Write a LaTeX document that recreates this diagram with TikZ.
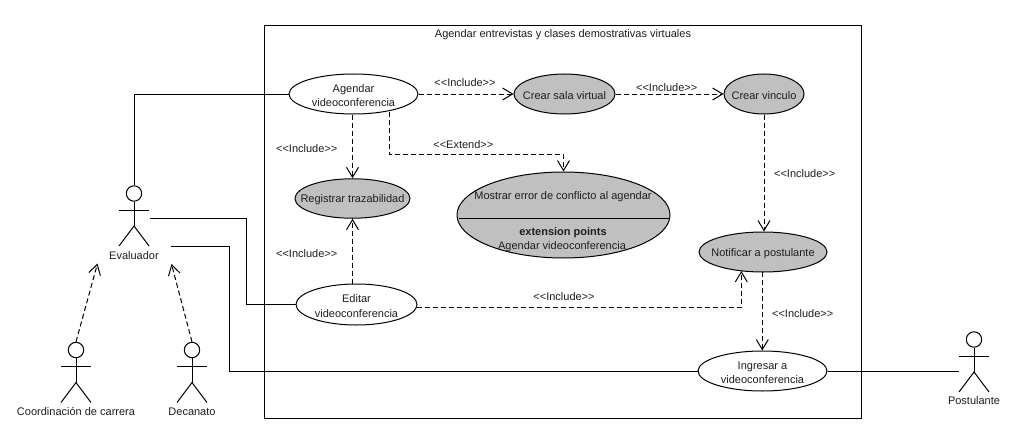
\documentclass[tikz,border=0pt]{standalone}
\usepackage{fontspec}
\setmainfont{Liberation Sans}
\usetikzlibrary{arrows.meta,shapes.geometric,calc}
\definecolor{ucgrey}{HTML}{C0C0C0}
\definecolor{uctext}{HTML}{1E1E1E}
\tikzset{
  every node/.style={font=\fontsize{11}{14.2}\selectfont,text=uctext},
  usecase/.style={draw=black,line width=1pt,ellipse,inner sep=0pt},
  plain/.style={usecase,fill=white},
  shaded/.style={usecase,fill=ucgrey},
  depline/.style={draw=black,line width=1pt,dash pattern=on 5pt off 3pt,-{Straight Barb[length=10pt,width=12pt,line width=1pt]}},
  assoc/.style={draw=black,line width=1pt},
  limb/.style={draw=black,line width=1pt},
  head/.style={draw=black,line width=1pt,circle,minimum size=15.4pt,inner sep=0pt},
  lbl/.style={inner sep=0pt,anchor=center,yshift=-1.5pt},
  uctxt/.style={label={[lbl,align=center]center:#1}},
}
% name, head x, head y, label, label y offset
\newcommand{\ucactor}[5]{%
  \node[head] (#1) at (#2,#3) {};
  \coordinate (#1-arml) at (#2-15,#3+16.5);
  \coordinate (#1-armr) at (#2+15,#3+16.5);
  \coordinate (#1-hip) at (#2,#3+32.5);
  \coordinate (#1-footl) at (#2-15,#3+52.5);
  \coordinate (#1-footr) at (#2+15,#3+52.5);
  \draw[limb] (#1.south) -- (#1-hip);
  \draw[limb] (#1-arml) -- (#1-armr);
  \draw[limb] (#1-footl) -- (#1-hip) -- (#1-footr);
  \node[lbl] (#1-label) at (#2,#3+#5) {#4};
}
\begin{document}
\begin{tikzpicture}[x=1pt,y=-1pt]
\useasboundingbox (0,0) rectangle (1012,436);
\fill[white] (0,0) rectangle (1012,436);

\node[draw=black,line width=1pt,minimum width=596.5pt,minimum height=392.5pt,inner sep=0pt] (system) at (562.75,221.75) {};
\node[lbl] (title) at (563,33) {Agendar entrevistas y clases demostrativas virtuales};

\node[plain,minimum width=129pt,minimum height=40pt,uctxt={Agendar\\videoconferencia}] (agendar) at (353.5,94) {};
\node[shaded,minimum width=101pt,minimum height=40pt,uctxt={Crear sala virtual}] (sala) at (564.5,94) {};
\node[shaded,minimum width=80pt,minimum height=40pt,uctxt={Crear vinculo}] (vinculo) at (764,94) {};
\node[shaded,minimum width=115pt,minimum height=39.5pt,uctxt={Registrar trazabilidad}] (registrar) at (352.5,198.5) {};
\node[shaded,minimum width=213pt,minimum height=86pt] (mostrar) at (563.5,215) {};
\node[shaded,minimum width=128pt,minimum height=40pt,uctxt={Notificar a postulante}] (notificar) at (763,252) {};
\node[plain,minimum width=121pt,minimum height=41pt,uctxt={Editar\\videoconferencia}] (editar) at (356.5,304.5) {};
\node[plain,minimum width=129pt,minimum height=40pt,uctxt={Ingresar a\\videoconferencia}] (ingresar) at (762.5,371) {};

\coordinate (divl) at (458.5,218.5);
\coordinate (divr) at (668.5,218.5);
\draw[assoc] (divl) -- (divr);
\node[lbl] (mostrar-t) at (563,195) {Mostrar error de conflicto al agendar};
\node[lbl] (mostrar-e) at (563,231) {\bfseries extension points};
\node[lbl] (mostrar-a) at (562,245) {Agendar videoconferencia};

\ucactor{evaluador}{134}{193.5}{Evaluador}{60.5}
\ucactor{coord}{76}{350}{Coordinación de carrera}{60.5}
\ucactor{decanato}{192}{350}{Decanato}{60.5}
\ucactor{postulante}{974}{339.5}{Postulante}{60}

% associations
\draw[assoc] (agendar.west) -| (evaluador.north);
\coordinate (evalA) at (150,218);
\coordinate (evalB) at (171,246);
\coordinate (evalAb) at (246,218);
\coordinate (evalBb) at (229.5,246);
\draw[assoc] (evalA) -- (evalAb) |- (editar.west);
\draw[assoc] (evalB) -- (evalBb) |- (ingresar.west);
\coordinate (postA) at (958.5,371);
\draw[assoc] (ingresar.east) -- (postA);

% generalisations
\coordinate (genC) at (97.5,263.5);
\coordinate (genD) at (171.5,264);
\draw[depline] (coord.north) -- (genC);
\draw[depline] (decanato.north) -- (genD);

% dependencies
\draw[depline] (agendar.east) -- (sala.west);
\draw[depline] (sala.east) -- (vinculo.west);
\draw[depline] (agendar.south -| registrar) -- (registrar.north);
\draw[depline] (editar.north -| registrar) -- (registrar.south);
\coordinate (extA) at (389.5,112);
\coordinate (extB) at (389.5,154.5);
\draw[depline] (extA) -- (extB) -| (mostrar.north);
\draw[depline] (vinculo.south) -- (vinculo.south |- notificar.north);
\coordinate (notB) at (762.3,272);
\draw[depline] (notB) -- (notB |- ingresar.north);
\coordinate (notC) at (741.3,271);
\coordinate (editC) at (416.5,307.3);
\draw[depline] (editC) -| (notC);

% labels
\node[lbl] (l1) at (465,81) {<{}<Include>{}>};
\node[lbl] (l2) at (666.7,86) {<{}<Include>{}>};
\node[lbl] (l3) at (306.7,147) {<{}<Include>{}>};
\node[lbl] (l4) at (306.7,252) {<{}<Include>{}>};
\node[lbl] (l5) at (463.3,143) {<{}<Extend>{}>};
\node[lbl] (l6) at (804.7,172) {<{}<Include>{}>};
\node[lbl] (l7) at (802.7,312) {<{}<Include>{}>};
\node[lbl] (l8) at (564,295) {<{}<Include>{}>};
\end{tikzpicture}
\end{document}
